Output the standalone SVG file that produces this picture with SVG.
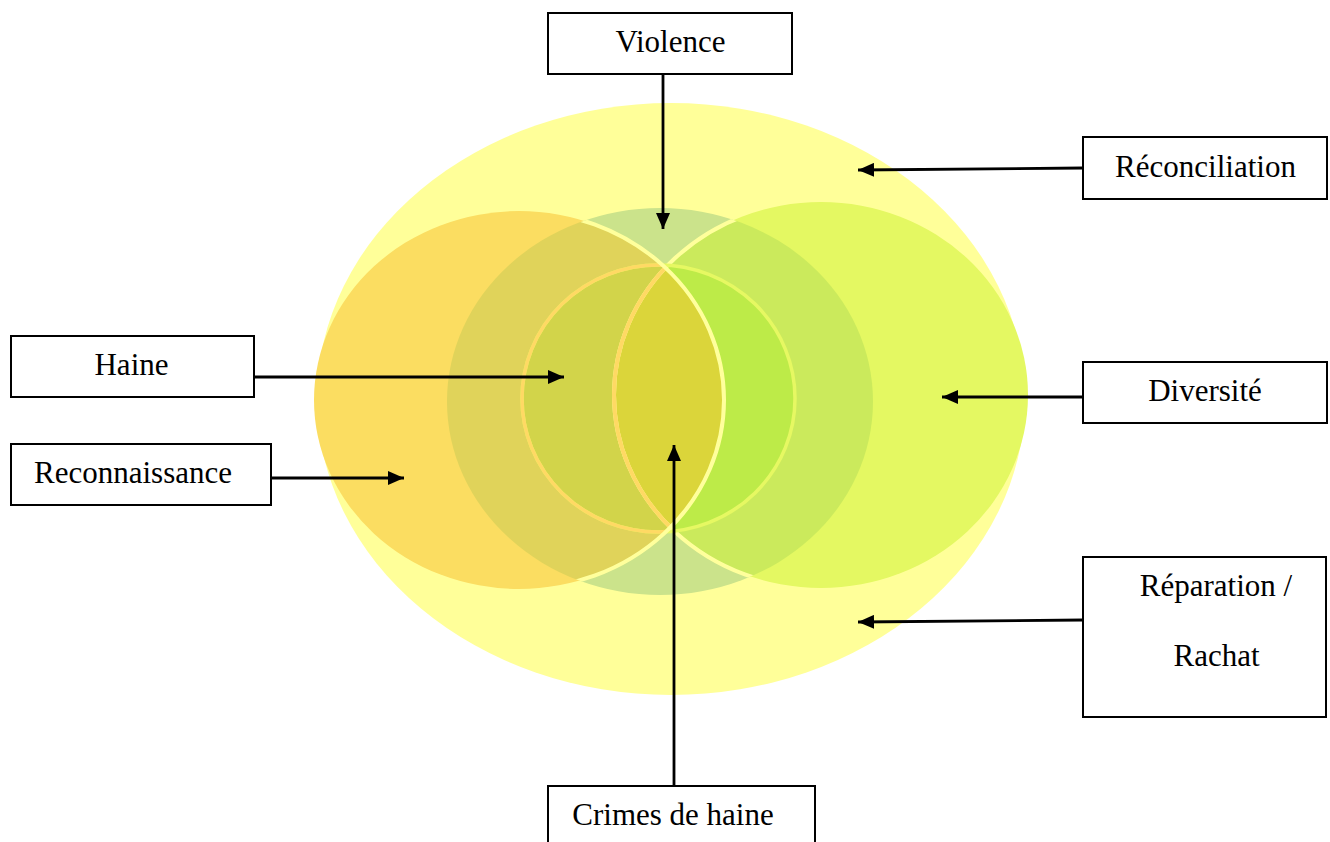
<svg xmlns="http://www.w3.org/2000/svg" width="1330" height="842" viewBox="0 0 1330 842">
  <style>
    .box { fill: #FFFFFF; stroke: #000000; stroke-width: 2; }
    .lbl { font-family: "Liberation Serif", "Times New Roman", serif; font-size: 31px; fill: #000000; text-anchor: middle; }
    .conn { stroke: #000000; stroke-width: 2.8; fill: none; marker-end: url(#arrow); }
  </style>
  <defs>
    <marker id="arrow" viewBox="0 0 16 14" refX="16" refY="7" markerWidth="16" markerHeight="14" markerUnits="userSpaceOnUse" orient="auto">
      <path d="M0,0 L16,7 L0,14 z" fill="#000000"/>
    </marker>
    <ellipse id="eL" cx="519" cy="400" rx="205" ry="189"/>
    <ellipse id="eR" cx="821" cy="395" rx="207" ry="193"/>
    <ellipse id="eM" cx="660" cy="401.5" rx="213" ry="193.5"/>
    <ellipse id="eI" cx="658.5" cy="398.5" rx="136.5" ry="133.5"/>
    <clipPath id="clipL"><use href="#eL"/></clipPath>
    <clipPath id="clipM"><use href="#eM"/></clipPath>
    <clipPath id="clipI"><use href="#eI"/></clipPath>
  </defs>

  <g id="venn">
    <ellipse cx="671" cy="399" rx="354" ry="296" fill="#FFFF99"/>
    <use href="#eM" fill="#CBE38B"/>
    <use href="#eL" fill="#FBDD61"/>
    <use href="#eR" fill="#E4F862"/>
    <g clip-path="url(#clipM)">
      <use href="#eL" fill="#E0D35A"/>
      <use href="#eR" fill="#CBEA5C"/>
    </g>
    <g clip-path="url(#clipI)">
      <use href="#eL" fill="#D2D44A"/>
      <use href="#eR" fill="#BDEB48"/>
      <g clip-path="url(#clipL)">
        <use href="#eR" fill="#DBD53A"/>
      </g>
    </g>
    <g clip-path="url(#clipM)">
      <use href="#eR" fill="none" stroke="#FFFF9C" stroke-width="4"/>
      <g clip-path="url(#clipL)">
        <use href="#eR" fill="none" stroke="#FFD964" stroke-width="4"/>
      </g>
      <use href="#eI" fill="none" stroke="#E6F862" stroke-width="3.5"/>
      <g clip-path="url(#clipL)">
        <use href="#eI" fill="none" stroke="#FFD964" stroke-width="3.5"/>
      </g>
      <use href="#eL" fill="none" stroke="#FFFF9C" stroke-width="4"/>
    </g>
  </g>

  <g id="connectors">
    <line class="conn" x1="663" y1="74" x2="663" y2="229"/>
    <line class="conn" x1="1083" y1="168" x2="858" y2="170"/>
    <line class="conn" x1="254" y1="377" x2="564" y2="377"/>
    <line class="conn" x1="270" y1="478" x2="404" y2="478"/>
    <line class="conn" x1="1083" y1="397" x2="942" y2="397"/>
    <line class="conn" x1="1083" y1="620" x2="858" y2="622"/>
    <line class="conn" x1="674" y1="786" x2="674" y2="445"/>
  </g>

  <g id="node-violence">
    <rect class="box" x="548" y="13" width="244" height="61"/>
    <text class="lbl" x="670.5" y="52">Violence</text>
  </g>
  <g id="node-reconciliation">
    <rect class="box" x="1083" y="137" width="244" height="62"/>
    <text class="lbl" x="1205.5" y="177">Réconciliation</text>
  </g>
  <g id="node-haine">
    <rect class="box" x="11" y="336" width="243" height="61"/>
    <text class="lbl" x="131.5" y="375">Haine</text>
  </g>
  <g id="node-reconnaissance">
    <rect class="box" x="11" y="444" width="260" height="61"/>
    <text class="lbl" x="133" y="483">Reconnaissance</text>
  </g>
  <g id="node-diversite">
    <rect class="box" x="1083" y="362" width="244" height="61"/>
    <text class="lbl" x="1205" y="401">Diversité</text>
  </g>
  <g id="node-reparation">
    <rect class="box" x="1083" y="557" width="243" height="160"/>
    <text class="lbl" x="1216" y="596">Réparation /</text>
    <text class="lbl" x="1216.5" y="666">Rachat</text>
  </g>
  <g id="node-crimes">
    <rect class="box" x="548" y="786" width="267" height="70"/>
    <text class="lbl" x="673" y="825">Crimes de haine</text>
  </g>
</svg>
